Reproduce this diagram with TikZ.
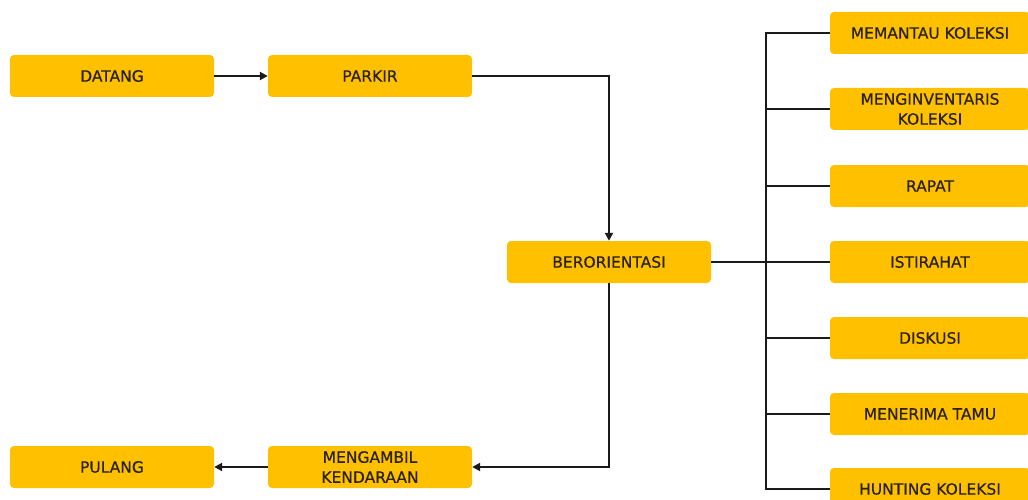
\documentclass[tikz,border=0pt]{standalone}
\usepackage{fontspec}
\setmainfont{DejaVu Sans}
\newfontfamily\boxfont[FakeBold=0.6]{DejaVu Sans}
\usetikzlibrary{arrows.meta}
\definecolor{boxfill}{HTML}{FFC000}
\definecolor{boxtext}{HTML}{2B2206}
\definecolor{linecol}{HTML}{1A1A1A}
\begin{document}
\begin{tikzpicture}[x=1pt,y=-1pt,
  stepbox/.style={fill=boxfill, rounded corners=4pt, minimum width=204pt,
    minimum height=42pt, inner sep=0pt, align=center, text=boxtext,
    font=\boxfont\fontsize{15.5}{20}\selectfont},
  sidebox/.style={stepbox, minimum width=200pt},
  link/.style={draw=linecol, line width=2pt},
  flow/.style={link, -{Triangle[length=8pt,width=8pt]}}]
\useasboundingbox (0,0) rectangle (1028,500);
\clip (0,0) rectangle (1028,500);

% main flow
\node[stepbox] (datang) at (112,76) {DATANG};
\node[stepbox] (parkir) at (370,76) {PARKIR};
\node[stepbox] (orient) at (609,262) {BERORIENTASI};
\node[stepbox] (ambil) at (370,467) {MENGAMBIL\\KENDARAAN};
\node[stepbox] (pulang) at (112,467) {PULANG};

% activities
\node[sidebox] (a1) at (930,33) {MEMANTAU KOLEKSI};
\node[sidebox] (a2) at (930,109) {MENGINVENTARIS\\KOLEKSI};
\node[sidebox] (a3) at (930,186) {RAPAT};
\node[sidebox] (a4) at (930,262) {ISTIRAHAT};
\node[sidebox] (a5) at (930,338) {DISKUSI};
\node[sidebox] (a6) at (930,414) {MENERIMA TAMU};
\node[sidebox] (a7) at (930,489) {HUNTING KOLEKSI};

\coordinate (ttop) at (766,33);
\coordinate (tbot) at (766,489);

% connectors
\draw[flow] (datang) -- (parkir);
\draw[flow] (parkir.east) -| (orient.north);
\draw[flow] (orient.south) |- (ambil.east);
\draw[flow] (ambil) -- (pulang);
\draw[link] (orient.east) -- (a4.west);
\draw[link] (a1.west) -- (ttop) -- (tbot) -- (a7.west);
\foreach \n in {a2,a3,a5,a6}
  \draw[link] (\n.west) -- (\n.west -| ttop);
\end{tikzpicture}
\end{document}
